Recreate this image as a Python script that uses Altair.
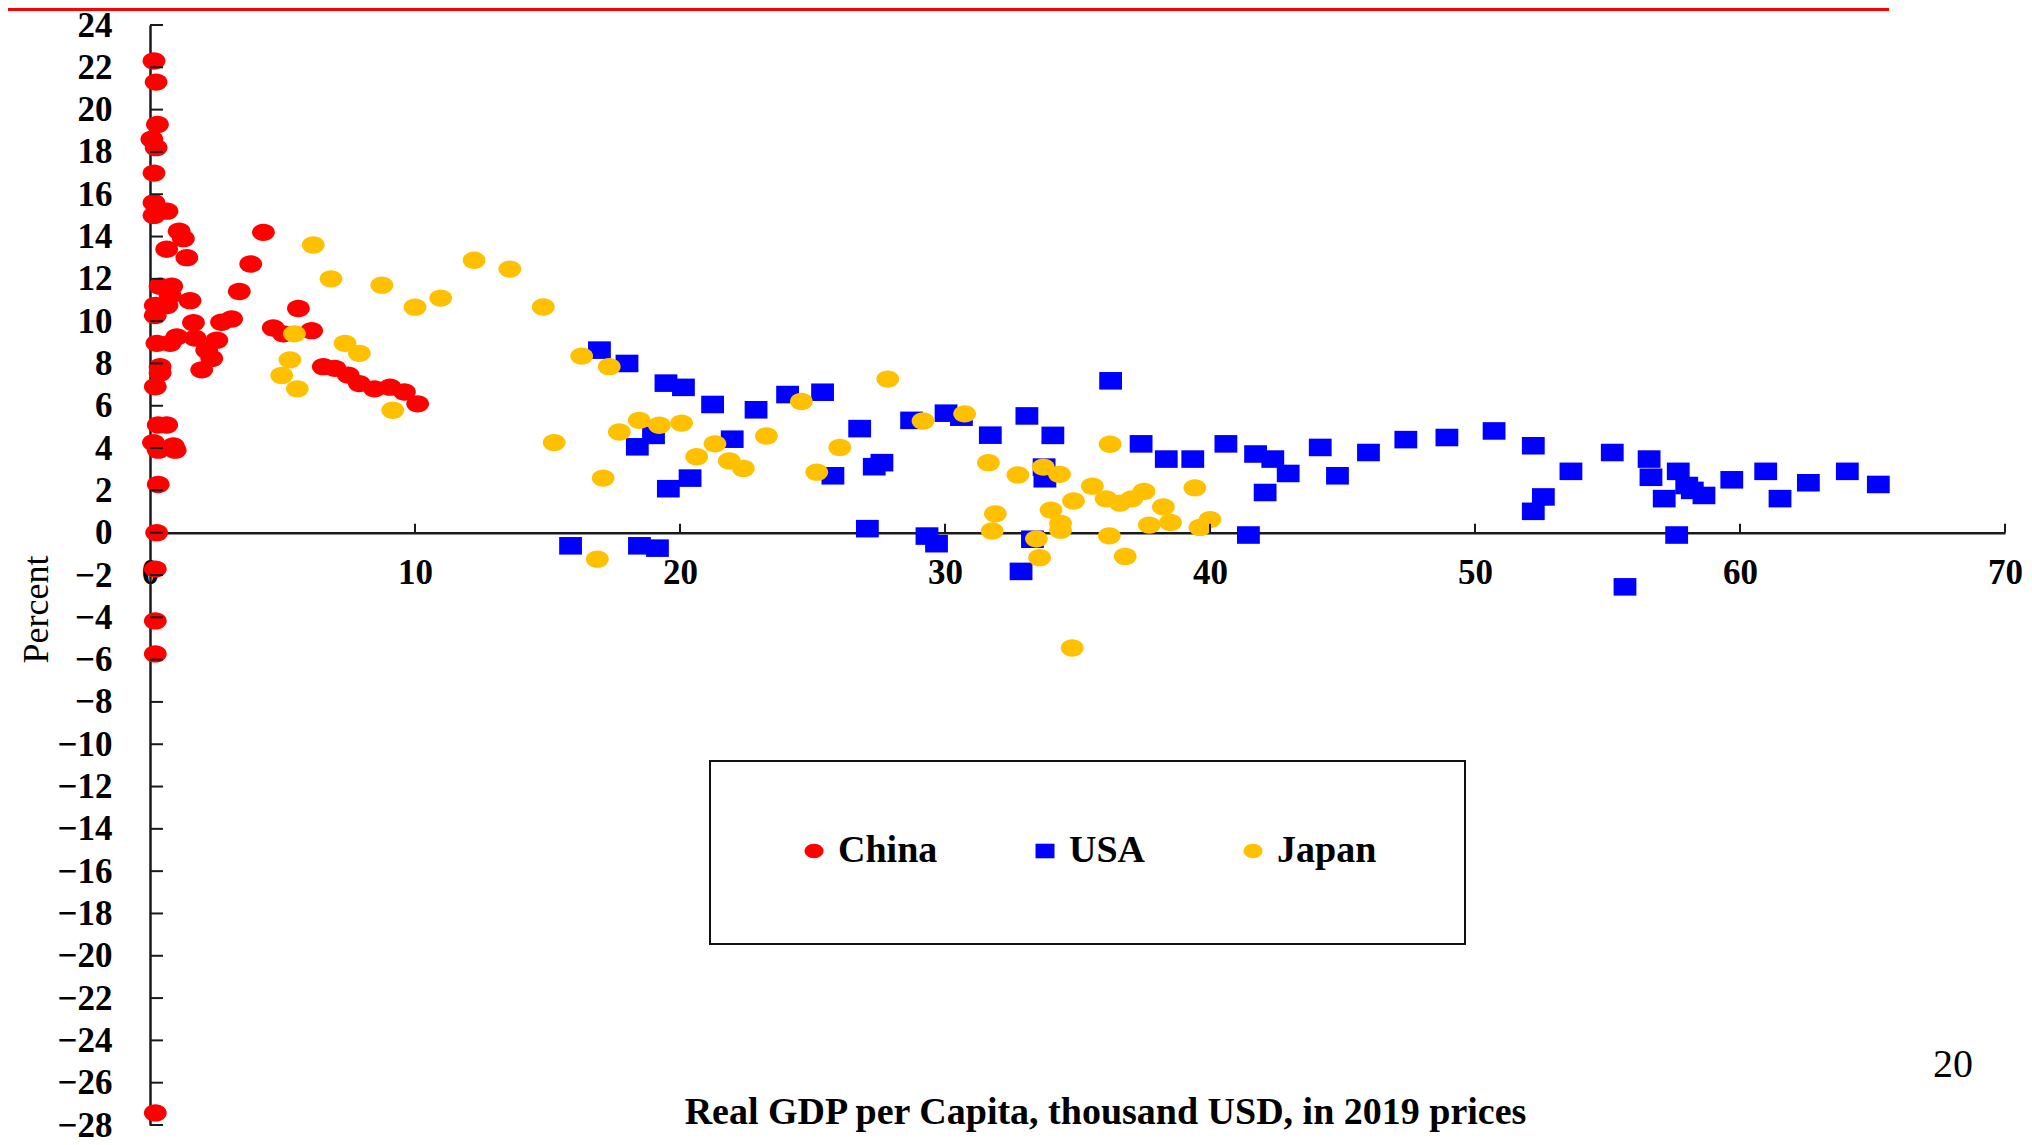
import altair as alt
import pandas as pd

# ---------------- data ----------------
series_names = ["China", "USA", "Japan"]
series_colors = ["#FF0000", "#0000FF", "#FFC000"]

china_gdp = [0.15, 0.23, 0.28, 0.07, 0.23, 0.15, 0.15, 0.64, 0.15, 1.10, 1.26, 0.63, 1.39,
             4.28, 3.80, 3.37, 0.38, 0.82, 0.76, 1.51, 0.20, 0.64, 0.20, 1.64, 2.70, 3.08,
             5.60, 4.65, 5.03, 6.10, 0.26, 0.76, 1.01, 1.70, 2.52, 2.14, 2.33, 1.95, 0.38,
             0.38, 0.20, 6.54, 6.98, 7.48, 7.90, 8.47, 9.06, 9.60, 10.10, 0.31, 0.63, 0.13,
             0.31, 0.88, 0.95, 0.31, 0.25, 0.20, 0.20, 0.20, 0.20]
china_growth = [22.3, 21.3, 19.3, 18.6, 18.2, 17.0, 15.6, 15.2, 15.0, 14.25, 13.9, 13.4, 13.0,
                14.2, 12.7, 11.4, 11.65, 11.65, 11.2, 10.97, 10.74, 10.74, 10.27, 9.93, 9.95, 10.1,
                10.6, 9.68, 9.4, 9.55, 8.95, 8.95, 9.26, 9.2, 9.1, 8.63, 8.24, 7.7, 7.85,
                7.55, 6.9, 7.85, 7.77, 7.45, 7.05, 6.8, 6.88, 6.65, 6.09, 5.09, 5.09, 4.26,
                3.9, 4.1, 3.9, 2.28, 0.0, -1.72, -4.17, -5.73, -27.43]

usa_gdp = [15.87, 16.96, 18.00, 18.39, 19.00, 18.47, 19.15, 19.47, 20.13, 19.56, 20.38, 21.23,
           21.97, 22.87, 24.06, 25.38, 25.77, 26.78, 27.07, 27.33, 27.62, 28.74, 29.32, 29.68,
           30.04, 30.62, 31.71, 32.87, 33.09, 33.30, 33.74, 33.77, 34.07, 36.25, 37.40, 38.35,
           39.35, 40.60, 41.45, 41.72, 42.08, 42.37, 42.95, 44.16, 44.81, 45.98, 47.39, 48.94,
           50.72, 52.20, 52.20, 52.58, 53.62, 55.18, 55.66, 56.57, 56.64, 57.14, 57.61, 57.67,
           57.99, 58.20, 58.64, 59.69, 60.97, 61.51, 62.58, 64.05, 65.22]
usa_growth = [-0.62, 8.63, 8.0, 4.06, 4.6, -0.62, -0.73, 7.07, 6.87, 2.08, 2.58, 6.06,
              4.42, 5.81, 6.53, 6.64, 2.69, 4.92, 0.19, 3.12, 3.31, 5.31, -0.16, -0.52,
              5.65, 5.46, 4.61, -1.83, 5.52, -0.31, 3.1, 2.55, 4.6, 7.18, 4.2, 3.48,
              3.48, 4.2, -0.11, 3.72, 1.9, 3.48, 2.8, 4.03, 2.69, 3.79, 4.4, 4.5,
              4.81, 4.11, 1.01, 1.69, 2.9, 3.79, -2.56, 3.48, 2.62, 1.61, -0.11, 2.9,
              2.23, 2.0, 1.76, 2.5, 2.9, 1.61, 2.36, 2.9, 2.28]

japan_gdp = [5.45, 6.16, 6.83, 8.75, 10.00, 7.36, 7.90, 5.28, 4.97, 5.56, 9.16, 12.23, 13.58,
             10.97, 14.84, 16.29, 17.33, 15.25, 17.10, 16.88, 17.71, 18.46, 19.22, 20.06, 20.63,
             21.32, 21.86, 22.39, 23.26, 24.58, 27.84, 25.16, 26.03, 29.17, 30.74, 31.64, 31.90,
             31.78, 32.75, 33.71, 34.32, 33.45, 33.57, 34.00, 34.36, 34.36, 34.85, 35.56, 34.80,
             36.23, 36.08, 36.60, 37.05, 37.51, 36.20, 36.80, 38.24, 37.71, 38.51, 39.43, 39.62,
             40.00]
japan_growth = [9.4, 13.6, 12.0, 11.7, 10.66, 8.95, 8.48, 8.17, 7.43, 6.8, 5.79, 12.88, 12.46,
                11.09, 10.67, 8.35, 7.85, 4.26, 2.58, -1.25, 4.76, 5.31, 5.08, 5.18, 3.59,
                4.2, 3.39, 3.04, 4.57, 6.2, 7.26, 2.86, 4.03, 5.28, 5.62, 3.31, 0.89,
                0.08, 2.73, 3.1, 2.76, -0.29, -1.18, 1.07, 0.44, 0.12, 1.5, 2.2, -5.45,
                4.18, 1.6, 1.4, 1.6, 1.95, -0.15, -1.12, 1.22, 0.36, 0.48, 2.12, 0.25,
                0.62]

x_tick_values = [0, 10, 20, 30, 40, 50, 60, 70]
y_tick_values = [-28, -26, -24, -22, -20, -18, -16, -14, -12, -10, -8, -6, -4, -2,
                 0, 2, 4, 6, 8, 10, 12, 14, 16, 18, 20, 22, 24]

x_title = "Real GDP per Capita, thousand USD, in 2019 prices"
y_title = "Percent"
slide_number = "20"

# ---------------- layout ----------------
PAD_TOP = 17
W, H = 1855, 1100
X_DOMAIN = [0, 70]
Y_DOMAIN = [-28, 24]
zero_px = H * (Y_DOMAIN[1] - 0) / (Y_DOMAIN[1] - Y_DOMAIN[0])   # pixel row of y = 0
x_axis_offset = -(H - zero_px)
top_abs = 8 + PAD_TOP          # page row of the plot's top edge

SERIF = "Liberation Serif"

ellipse = "M-1,0A1,0.76,0,1,1,1,0A1,0.76,0,1,1,-1,0Z"
rect = "M-1,-0.77H1V0.77H-1Z"
series_shapes = [ellipse, rect, ellipse]

frames = []
for name, xs, ys in [("China", china_gdp, china_growth),
                     ("USA", usa_gdp, usa_growth),
                     ("Japan", japan_gdp, japan_growth)]:
    frames.append(pd.DataFrame({"gdp": xs, "growth": ys, "country": name}))
points_df = pd.concat(frames, ignore_index=True)
points_df["order"] = range(len(points_df))

xt_df = pd.DataFrame({"gdp": x_tick_values[1:], "growth": 0})
yt_df = pd.DataFrame({"growth": y_tick_values})
one_df = pd.DataFrame({"a": [0]})

x_scale = alt.Scale(domain=X_DOMAIN, nice=False, zero=False)
y_scale = alt.Scale(domain=Y_DOMAIN, nice=False, zero=False)

x_axis = alt.Axis(
    values=x_tick_values, title=x_title, offset=x_axis_offset,
    grid=False, ticks=False, domain=True, domainColor="#1a1a1a", domainWidth=2.5,
    labelFont=SERIF, labelFontSize=35, labelFontWeight="bold", labelColor="black",
    labelPadding=23, labelFlush=False, labelOverlap=False, labelBaseline="top",
    titleFont=SERIF, titleFontSize=38, titleFontWeight="bold", titleColor="black",
    titleX=955, titleY=(1123 - top_abs) - zero_px, titleAlign="center", titleBaseline="alphabetic",
)
y_axis = alt.Axis(
    values=y_tick_values, title=y_title,
    grid=False, ticks=False, domain=True, domainColor="#1a1a1a", domainWidth=2.5,
    labelFont=SERIF, labelFontSize=35, labelFontWeight="bold", labelColor="black",
    labelPadding=38, labelFlush=False, labelOverlap=False,
    titleFont=SERIF, titleFontSize=36, titleFontWeight="normal", titleColor="black",
    titleAngle=270, titleX=-103, titleY=609 - top_abs, titleAlign="center", titleBaseline="alphabetic",
)

legend = alt.Legend(
    title=None, orient="none", legendX=645, legendY=832 - top_abs, direction="horizontal",
    symbolSize=360, symbolStrokeWidth=0, symbolOpacity=1,
    labelFont=SERIF, labelFontSize=38, labelFontWeight="bold", labelColor="black",
    labelOffset=5, columnPadding=88, padding=0,
)

X = alt.X("gdp:Q", scale=x_scale, axis=x_axis, title=x_title)
Y = alt.Y("growth:Q", scale=y_scale, axis=y_axis, title=y_title)

points = alt.Chart(points_df).mark_point(filled=True, opacity=1, size=520, strokeWidth=0).encode(
    x=X, y=Y,
    color=alt.Color("country:N", scale=alt.Scale(domain=series_names, range=series_colors), legend=legend),
    shape=alt.Shape("country:N", scale=alt.Scale(domain=series_names, range=series_shapes), legend=legend),
    order=alt.Order("order:Q"),
)

legend_box = alt.Chart(one_df).mark_rect(fill="white", stroke="#111111", strokeWidth=2).encode(
    x=alt.value(560), x2=alt.value(1315), y=alt.value(761 - top_abs), y2=alt.value(944 - top_abs)
)

y_ticks = alt.Chart(yt_df).mark_rule(color="#1a1a1a", strokeWidth=2).encode(
    y=Y, x=alt.value(0), x2=alt.value(13)
)
x_ticks = alt.Chart(xt_df).mark_rule(color="#1a1a1a", strokeWidth=2, y2Offset=-9).encode(
    x=X, y=Y, y2="growth:Q",
)

red_bar = alt.Chart(one_df).mark_rect(color="#FF0000").encode(
    x=alt.value(-142), x2=alt.value(1739), y=alt.value(8 - top_abs), y2=alt.value(11 - top_abs)
)
page_no = alt.Chart(one_df).mark_text(
    text=slide_number, font=SERIF, fontSize=40, align="center", baseline="alphabetic", color="black"
).encode(x=alt.value(1803), y=alt.value(1077 - top_abs))

chart = alt.layer(points, legend_box, y_ticks, x_ticks, red_bar, page_no).properties(
    width=W, height=H,
    padding={"left": 142, "top": PAD_TOP, "right": 19, "bottom": 12},
    autosize=alt.AutoSizeParams(type="none"),
    background="white",
).configure_view(strokeWidth=0)

chart.save("out.html", embed_options={"renderer": "svg", "actions": False})
